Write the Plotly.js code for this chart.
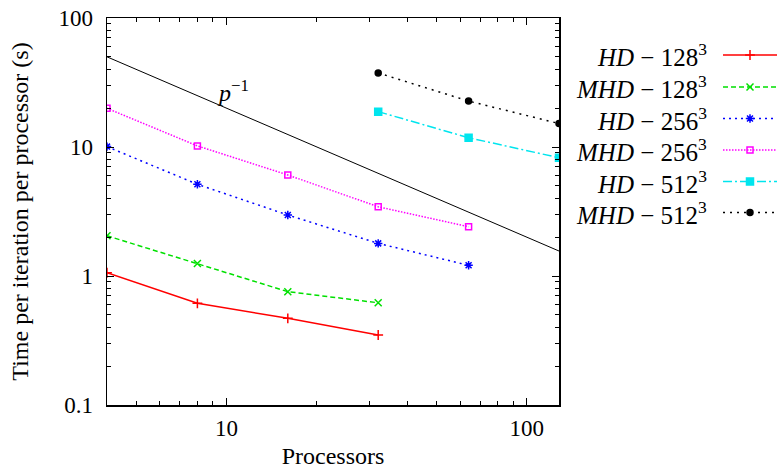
<!DOCTYPE html>
<html>
<head>
<meta charset="utf-8">
<script src="https://cdn.plot.ly/plotly-3.0.1.min.js"></script>
<style>
  html, body { margin: 0; padding: 0; background: #fff; }
  #chart { width: 777px; height: 469px; }
</style>
</head>
<body>
<div id="chart"></div>
<script>
// Timing per iteration per processor versus processor count (log-log)
const procs128 = [4, 8, 16, 32];
const procs256 = [4, 8, 16, 32, 64];
const procs512 = [32, 64, 128];

const hd128  = [1.06, 0.614, 0.47, 0.349];
const mhd128 = [2.05, 1.25, 0.756, 0.62];
const hd256  = [10.07, 5.14, 2.97, 1.79, 1.21];
const mhd256 = [19.95, 10.2, 6.07, 3.44, 2.41];
const hd512  = [18.8, 11.8, 8.26];
const mhd512 = [37.5, 22.7, 15.2];

// ideal scaling reference p^-1
const refProcs = [4, 128];
const refTime  = [50, 1.5625];

const seriesNames = [
  '<i>HD</i> − 128<sup>3</sup>',
  '<i>MHD</i> − 128<sup>3</sup>',
  '<i>HD</i> − 256<sup>3</sup>',
  '<i>MHD</i> − 256<sup>3</sup>',
  '<i>HD</i> − 512<sup>3</sup>',
  '<i>MHD</i> − 512<sup>3</sup>'
];

const xTickVals = [10, 100];
const xTickText = ['10', '100'];
const yTickVals = [0.1, 1, 10, 100];
const yTickText = ['0.1', '1', '10', '100'];

const FONT = 'Liberation Serif, Times New Roman, serif';

const styles = [
  { color: '#ff0000', dash: 'solid',            symbol: 'cross-thin-open', size: 7 },
  { color: '#00e000', dash: '5px,3px',          symbol: 'x-thin-open',     size: 7 },
  { color: '#0000ff', dash: '2px,4px',          symbol: 'asterisk-open',   size: 7 },
  { color: '#ff00ff', dash: '1.5px,1.5px',      symbol: 'square-open',     size: 6 },
  { color: '#00e5ee', dash: '9px,3px,2px,3px',  symbol: 'square',          size: 7 },
  { color: '#000000', dash: '2px,5px',          symbol: 'circle',          size: 6 }
];

const seriesX = [procs128, procs128, procs256, procs256, procs512, procs512];
const seriesY = [hd128, mhd128, hd256, mhd256, hd512, mhd512];

// plot area geometry (px)
const W = 777, H = 469;
const mL = 107, mT = 18, mB = 64;
const plotW = W - mL;           // right margin 0; main axis uses part of it
const axisRight = 559;
const legendLineLeft = 723;

const traces = [];

traces.push({
  x: refProcs, y: refTime, mode: 'lines', type: 'scatter',
  line: { color: '#000', width: 1 }, showlegend: false, hoverinfo: 'skip'
});

for (let i = 0; i < seriesY.length; i++) {
  const s = styles[i];
  traces.push({
    x: seriesX[i], y: seriesY[i], mode: 'lines+markers', type: 'scatter',
    line: { color: s.color, width: 1.5, dash: s.dash },
    marker: { color: s.color, symbol: s.symbol, size: s.size, line: { color: s.color, width: 1.5 } },
    showlegend: false, name: seriesNames[i]
  });
}

// key rows (in pixel units of the key axis)
const rowY = [55, 87, 118.5, 150, 181.5, 212.5];
const annotations = [];
for (let i = 0; i < seriesY.length; i++) {
  const s = styles[i];
  traces.push({
    x: [0, 1], y: [rowY[i], rowY[i]], xaxis: 'x2', yaxis: 'y2',
    mode: 'lines', type: 'scatter', cliponaxis: false,
    line: { color: s.color, width: 1.5, dash: s.dash },
    showlegend: false, hoverinfo: 'skip'
  });
  traces.push({
    x: [0.5], y: [rowY[i]], xaxis: 'x2', yaxis: 'y2',
    mode: 'markers', type: 'scatter', cliponaxis: false,
    marker: { color: s.color, symbol: s.symbol, size: s.size, line: { color: s.color, width: 1.5 } },
    showlegend: false, hoverinfo: 'skip'
  });
  annotations.push({
    xref: 'paper', yref: 'y2', x: (709 - mL) / plotW, y: rowY[i],
    xanchor: 'right', yanchor: 'middle', showarrow: false,
    text: seriesNames[i], font: { family: FONT, size: 25, color: '#000' }
  });
}

annotations.push({
  xref: 'x', yref: 'y', x: Math.log10(10.5), y: Math.log10(27),
  xanchor: 'center', yanchor: 'middle', showarrow: false,
  text: '<i>p</i><sup>−1</sup>', font: { family: FONT, size: 24, color: '#000' }
});

function minorVals(lo, hi) {
  const v = [];
  for (let e = lo; e < hi; e++) for (let m = 2; m <= 9; m++) v.push(m * Math.pow(10, e));
  return v;
}

const axisCommon = {
  type: 'log', showline: true, linecolor: '#000', linewidth: 1.5,
  mirror: 'allticks', ticks: 'inside', ticklen: 7, tickwidth: 1, tickcolor: '#000',
  showgrid: false, zeroline: false, tickmode: 'array',
  tickfont: { family: FONT, size: 23, color: '#000' }
};

const layout = {
  width: W, height: H,
  margin: { l: mL, r: 0, t: mT, b: mB },
  paper_bgcolor: '#fff', plot_bgcolor: '#fff',
  showlegend: false,
  xaxis: Object.assign({}, axisCommon, {
    domain: [0, (axisRight - mL) / plotW],
    range: [Math.log10(4), Math.log10(128)],
    tickvals: xTickVals, ticktext: xTickText,
    ticklabelstandoff: 2,
    minor: { ticks: 'inside', ticklen: 4, tickcolor: '#000', tickmode: 'array', tickvals: minorVals(0, 3), showgrid: false },
    title: { text: 'Processors', font: { family: FONT, size: 24, color: '#000' }, standoff: 11 },
    anchor: 'y'
  }),
  yaxis: Object.assign({}, axisCommon, {
    domain: [0, 1],
    range: [-1, 2],
    tickvals: yTickVals, ticktext: yTickText,
    ticklabelstandoff: 8,
    minor: { ticks: 'inside', ticklen: 4, tickcolor: '#000', tickmode: 'array', tickvals: minorVals(-1, 2), showgrid: false },
    title: { text: 'Time per iteration per processor (s)', font: { family: FONT, size: 24, color: '#000' }, standoff: 23 },
    anchor: 'x'
  }),
  xaxis2: {
    domain: [(legendLineLeft - mL) / plotW, 1], range: [0, 1],
    visible: false, anchor: 'y2', fixedrange: true
  },
  yaxis2: {
    domain: [0, 1], range: [H - mB, mT],
    visible: false, anchor: 'x2', fixedrange: true
  },
  annotations: annotations
};

Plotly.newPlot('chart', traces, layout, { displayModeBar: false, staticPlot: true });
</script>
</body>
</html>
